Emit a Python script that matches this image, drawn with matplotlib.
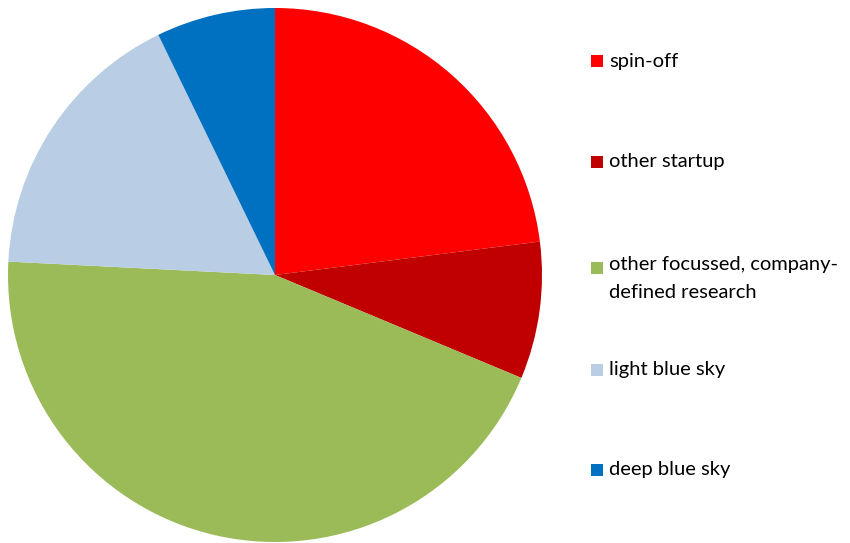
import matplotlib.pyplot as plt
from matplotlib.patches import Rectangle

labels = ["spin-off", "other startup", "other focussed, company-\ndefined research",
          "light blue sky", "deep blue sky"]
values = [23, 8.3, 44.5, 17, 7.2]
colors = ["#FF0000", "#C00000", "#9BBB59", "#B9CDE5", "#0070C0"]

# legend row centres (pixels from top)
legend_y = [61, 162, 268, 370, 470]

W, H = 850, 543
fig = plt.figure(figsize=(8.5, 5.43), dpi=100)

cx, cy, r = 275, 275, 267
ax = fig.add_axes([(cx - r) / W, (H - cy - r) / H, 2 * r / W, 2 * r / H])
ax.pie(values, colors=colors, startangle=90, counterclock=False,
       wedgeprops=dict(linewidth=0))
ax.set_xlim(-1, 1)
ax.set_ylim(-1, 1)
ax.set_aspect("equal")
ax.axis("off")

for lab, col, y in zip(labels, colors, legend_y):
    fig.patches.append(Rectangle((591 / W, (H - y - 6) / H), 12 / W, 12 / H,
                                 transform=fig.transFigure, facecolor=col,
                                 edgecolor="none"))
    if "\n" in lab:
        # first line centred on the marker
        fig.text(609 / W, (H - y + 12) / H, lab, fontsize=14.5, family="Lato",
                 va="top", ha="left", linespacing=1.75, color="black")
    else:
        fig.text(609 / W, (H - y) / H, lab, fontsize=14.5, family="Lato",
                 va="center", ha="left", color="black")

fig.savefig("out.png", dpi=100)
